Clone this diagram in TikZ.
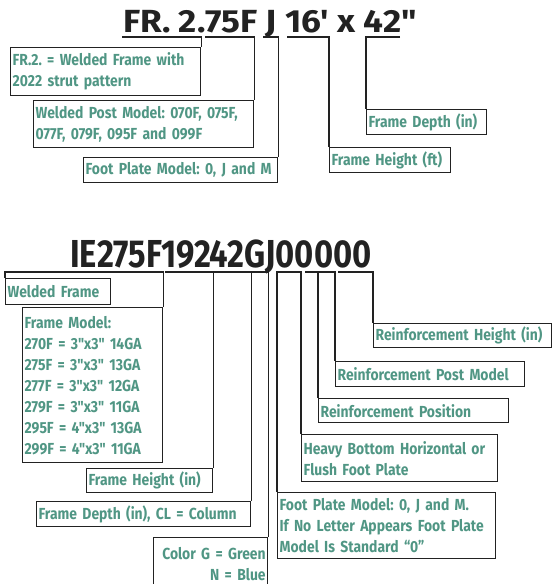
\documentclass[tikz,border=0pt]{standalone}
\usepackage{fontspec}
\newfontfamily\lblfont[FakeStretch=0.87,Ligatures=TeXOff]{Fira Sans}
\newfontfamily\topfont[FakeStretch=1.1,Ligatures=TeXOff]{Fira Sans}
\newfontfamily\iefont[FakeStretch=0.84,Ligatures=TeXOff]{Fira Sans}
\definecolor{lbl}{RGB}{80,150,132}
\definecolor{ink}{RGB}{34,34,34}
\frenchspacing
\tikzset{
  lblbox/.style={draw=ink, line width=1.3pt, text=lbl, anchor=north west,
    inner xsep=2pt, inner ysep=0pt,
    font=\lblfont\bfseries\fontsize{16}{21}\selectfont},
  leader/.style={draw=ink, line width=1.3pt}
}
\begin{document}
\begin{tikzpicture}[x=1pt,y=-1pt]
\clip (0,0) rectangle (552,584);
% part number, welded frame
\node[anchor=base west, inner sep=0pt, text=ink, font=\topfont\bfseries\fontsize{32}{32}\selectfont] (frcode) at (123,32) {FR. 2.75F J 16' x 42"};
\coordinate (u1) at (122,37);
\coordinate (u2) at (205,37);
\coordinate (u3) at (263,37);
\coordinate (u4) at (287,37);
\coordinate (u5) at (400,37);
% labels
\node[lblbox, text width=186, minimum height=48, align=left] (fr2) at (10,47) {FR.2. = Welded Frame with\\2022 strut pattern};
\node[lblbox, text width=216, minimum height=47, align=left] (post) at (33,100) {Welded Post Model: 070F, 075F,\\077F, 079F, 095F and 099F};
\node[lblbox, text width=190, minimum height=25, align=left] (foot) at (83,157) {Foot Plate Model: 0, J and M};
\node[lblbox, text width=117, minimum height=25, align=left] (hgt) at (329,147) {Frame Height (ft)};
\node[lblbox, text width=116, minimum height=25, align=left] (dep) at (366,109) {Frame Depth (in)};
% leaders
\draw[leader] (u1) -| (fr2.north east);
\draw[leader] (u2) -| (post.north east);
\draw[leader] (u3) -| (foot.north east);
\draw[leader] (u4) -| (hgt.north west);
\draw[leader] (u5) -| (dep.north west);

% part number, item code
\node[anchor=base west, inner sep=0pt, text=ink, font=\iefont\bfseries\fontsize{39}{39}\selectfont] (iecode) at (70,267) {IE275F19242GJ00000};
\coordinate (v1) at (5,272);
\coordinate (v2) at (165,272);
\coordinate (v3) at (213,272);
\coordinate (v4) at (250,272);
\coordinate (v5) at (277,272);
\coordinate (v6) at (305,272);
\coordinate (v7) at (338,272);
% labels
\node[lblbox, text width=101, minimum height=26, align=left] (welded) at (5,278) {Welded Frame};
\node[lblbox, text width=136, minimum height=155, align=left] (model) at (22,307) {Frame Model:\\270F = 3"x3" 14GA\\275F = 3"x3" 13GA\\277F = 3"x3" 12GA\\279F = 3"x3" 11GA\\295F = 4"x3" 13GA\\299F = 4"x3" 11GA};
\node[lblbox, text width=122, minimum height=24, align=left] (fhin) at (86,468) {Frame Height (in)};
\node[lblbox, text width=210, minimum height=25, align=left] (fdep) at (36,501) {Frame Depth (in), CL = Column};
\node[lblbox, text width=110, minimum height=52, align=right] (color) at (153,537) {Color G = Green\\N = Blue};
\node[lblbox, text width=214, minimum height=66, align=left] (foot2) at (277,492) {Foot Plate Model: 0, J and M.\\If No Letter Appears Foot Plate\\Model Is Standard “0”};
\node[lblbox, text width=192, minimum height=47, align=left] (heavy) at (301,434) {Heavy Bottom Horizontal or\\Flush Foot Plate};
\node[lblbox, text width=186, minimum height=24, align=left] (rpos) at (318,398) {Reinforcement Position};
\node[lblbox, text width=185, minimum height=25, align=left] (rpost) at (335,361) {Reinforcement Post Model};
\node[lblbox, text width=174, minimum height=24, align=left] (rhgt) at (373,323) {Reinforcement Height (in)};
% leaders
\draw[leader] (welded.north west) -- (v1) -| (model.north east);
\draw[leader] (v2) -| (fhin.north east);
\draw[leader] (v3) -| (fdep.north east);
\draw[leader] (v4) -| (color.north east);
\draw[leader] (foot2.north west) -- (v5) -| (heavy.north west);
\draw[leader] (v6) -| (rpost.north west);
\draw[leader] (rpos.north west) -- (rpos.north west |- v6);
\draw[leader] (v7) -| (rhgt.north west);
\end{tikzpicture}
\end{document}
